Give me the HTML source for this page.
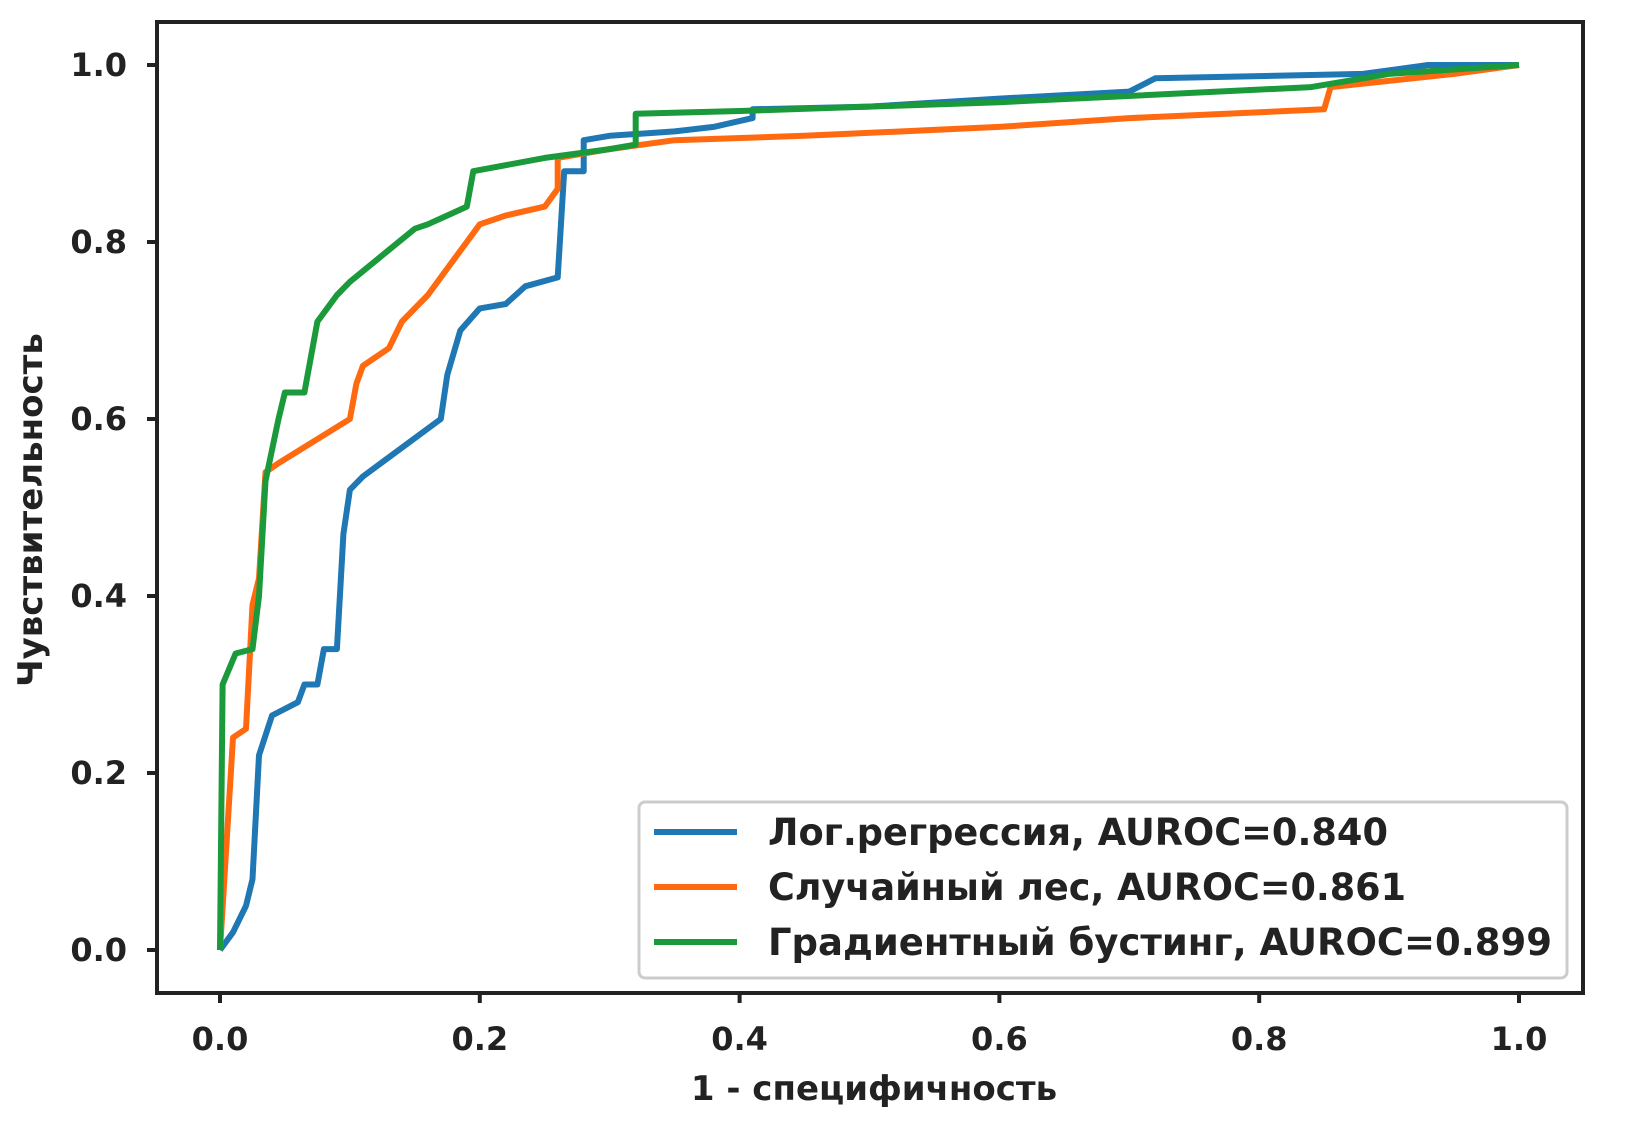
<!DOCTYPE html>
<html><head><meta charset="utf-8"><style>
html,body{margin:0;padding:0;background:#fff;}
svg{display:block;}
text{font-family:"DejaVu Sans","Liberation Sans",sans-serif;fill:#222;}
</style></head><body>
<svg id="s" width="1627" height="1145" viewBox="0 0 1627 1145">
<rect x="157" y="22" width="1426" height="971" fill="#fff" stroke="#222" stroke-width="4"/>
<g id="ticks" stroke="#222" stroke-width="4"></g>
<g id="lbl" font-size="32" font-weight="bold"></g>
<g id="curves" fill="none" stroke-width="6" stroke-linejoin="round"></g>
<rect x="639" y="802" width="928" height="176" rx="6" fill="#fff" stroke="#ccc" stroke-width="3"/>
<line x1="654" y1="832" x2="737" y2="832" stroke="#1f77b4" stroke-width="6"/>
<line x1="654" y1="887" x2="737" y2="887" stroke="#ff6a10" stroke-width="6"/>
<line x1="654" y1="942" x2="737" y2="942" stroke="#1a9a3a" stroke-width="6"/>
<g font-size="37" font-weight="bold">
<text x="768" y="845" textLength="620" lengthAdjust="spacingAndGlyphs">Лог.регрессия, AUROC=0.840</text>
<text x="768" y="900" textLength="638" lengthAdjust="spacingAndGlyphs">Случайный лес, AUROC=0.861</text>
<text x="768" y="955" textLength="784" lengthAdjust="spacingAndGlyphs">Градиентный бустинг, AUROC=0.899</text>
</g>
<text x="874" y="1100" font-size="34" font-weight="bold" text-anchor="middle">1 - специфичность</text>
<text transform="translate(42,510) rotate(-90)" font-size="34" font-weight="bold" text-anchor="middle">Чувствительность</text>
</svg>
<script>
var X0=220,XS=1299,Y0=950,YS=885,ns="http://www.w3.org/2000/svg";
function px(x){return X0+x*XS} function py(y){return Y0-y*YS}
var t=document.getElementById('ticks'),l=document.getElementById('lbl');
for(var i=0;i<=5;i++){var v=i*0.2,s=v.toFixed(1);
 var a=document.createElementNS(ns,'line');a.setAttribute('x1',px(v));a.setAttribute('x2',px(v));a.setAttribute('y1',993);a.setAttribute('y2',1003);t.appendChild(a);
 var b=document.createElementNS(ns,'line');b.setAttribute('y1',py(v));b.setAttribute('y2',py(v));b.setAttribute('x1',147);b.setAttribute('x2',157);t.appendChild(b);
 var c=document.createElementNS(ns,'text');c.setAttribute('x',px(v));c.setAttribute('y',1050);c.setAttribute('text-anchor','middle');c.textContent=s;l.appendChild(c);
 var d=document.createElementNS(ns,'text');d.setAttribute('x',127);d.setAttribute('y',py(v)+11);d.setAttribute('text-anchor','end');d.textContent=s;l.appendChild(d);}
var data={
"#1f77b4":[[0,0],[0.01,0.02],[0.02,0.05],[0.025,0.08],[0.03,0.22],[0.04,0.265],[0.06,0.28],[0.065,0.3],[0.075,0.3],[0.08,0.34],[0.09,0.34],[0.095,0.47],[0.1,0.52],[0.11,0.535],[0.17,0.6],[0.175,0.65],[0.185,0.7],[0.2,0.725],[0.22,0.73],[0.235,0.75],[0.26,0.76],[0.265,0.88],[0.28,0.88],[0.28,0.915],[0.3,0.92],[0.35,0.925],[0.38,0.93],[0.41,0.94],[0.41,0.95],[0.5,0.953],[0.6,0.962],[0.7,0.97],[0.72,0.985],[0.88,0.99],[0.93,1],[1,1]],
"#ff6a10":[[0,0],[0.01,0.24],[0.02,0.25],[0.025,0.39],[0.03,0.42],[0.035,0.54],[0.045,0.55],[0.1,0.6],[0.105,0.64],[0.11,0.66],[0.13,0.68],[0.14,0.71],[0.16,0.74],[0.175,0.77],[0.19,0.8],[0.2,0.82],[0.22,0.83],[0.25,0.84],[0.26,0.86],[0.26,0.895],[0.3,0.905],[0.35,0.915],[0.45,0.92],[0.6,0.93],[0.7,0.94],[0.85,0.95],[0.855,0.975],[0.95,0.99],[1,1]],
"#1a9a3a":[[0,0],[0.002,0.3],[0.012,0.335],[0.025,0.34],[0.03,0.4],[0.035,0.53],[0.045,0.6],[0.05,0.63],[0.065,0.63],[0.075,0.71],[0.09,0.74],[0.1,0.755],[0.15,0.815],[0.16,0.82],[0.175,0.83],[0.19,0.84],[0.195,0.88],[0.25,0.895],[0.3,0.905],[0.32,0.91],[0.32,0.945],[0.4,0.948],[0.6,0.958],[0.84,0.975],[0.9,0.99],[1,1]]};
var g=document.getElementById('curves');
for(var k in data){var p=document.createElementNS(ns,'polyline');p.setAttribute('stroke',k);
 p.setAttribute('points',data[k].map(function(q){return px(q[0]).toFixed(1)+','+py(q[1]).toFixed(1)}).join(' '));g.appendChild(p);}
</script>
</body></html>
